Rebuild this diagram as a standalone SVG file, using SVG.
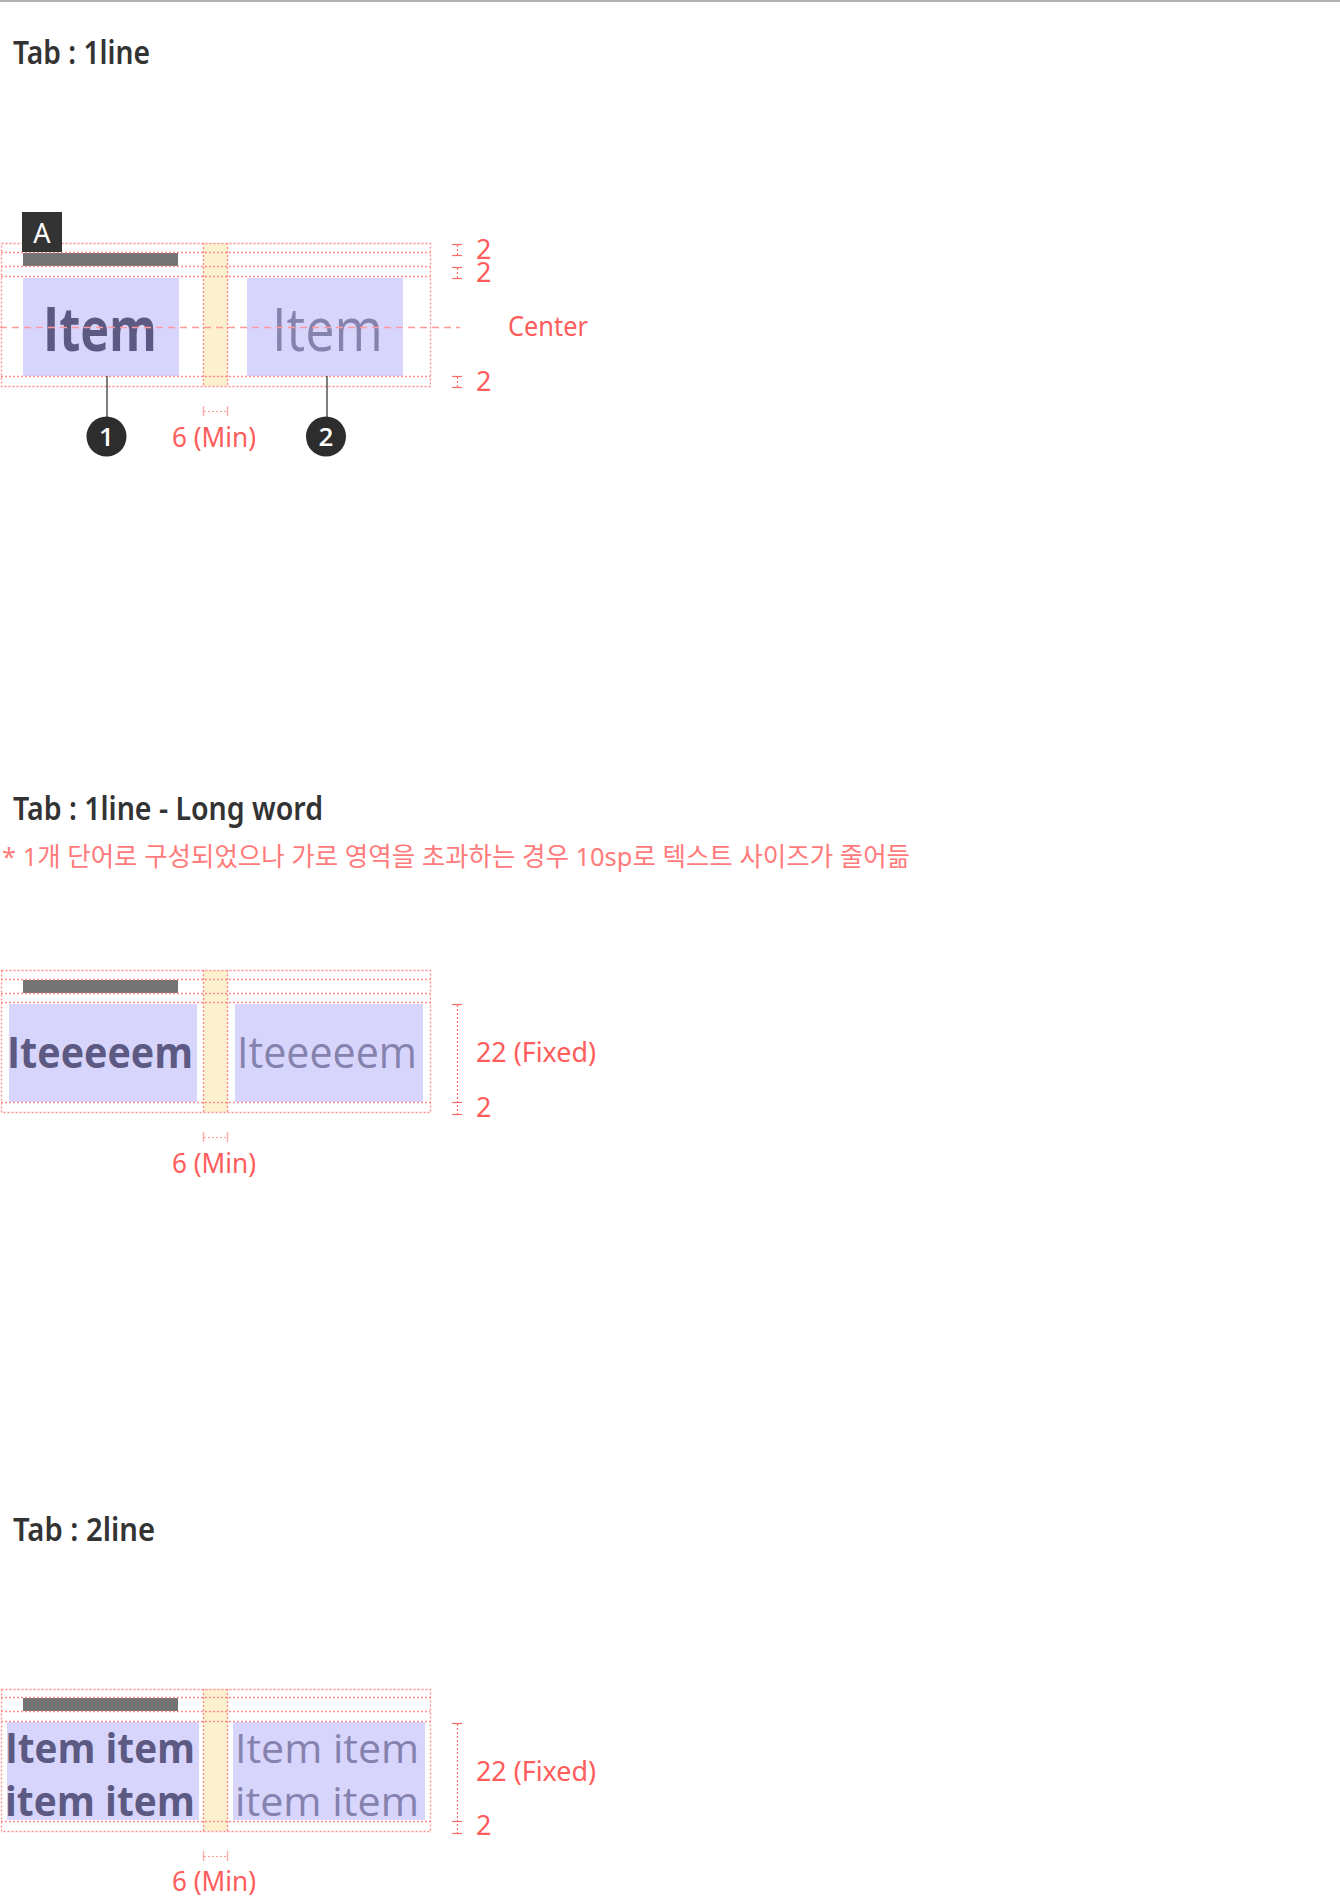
<svg xmlns="http://www.w3.org/2000/svg" width="1340" height="1896" viewBox="0 0 1340 1896">
<style>
  .title{font-family:"Noto Sans","Liberation Sans",sans-serif;font-weight:600;font-size:32px;fill:#333333}
  .note{font-family:"Noto Sans","Noto Sans CJK KR",sans-serif;font-size:26px;fill:#ff7b7b}
  .lbl{font-family:"Noto Sans","Liberation Sans",sans-serif;font-size:27px;fill:#ff5c5c}
  .guide{fill:none;stroke:#ff8c8c;stroke-width:1.3;stroke-dasharray:2 2}
  .center{fill:none;stroke:#ff9a9a;stroke-width:1.5;stroke-dasharray:7 5}
  .dim{fill:none;stroke:#ff6b6b;stroke-width:1.2}
  .dimdot{fill:none;stroke:#ff6b6b;stroke-width:1.2;stroke-dasharray:2 2}
  .mindim{fill:none;stroke:#ffaaaa;stroke-width:1.4}
  .mindot{fill:none;stroke:#ff9a9a;stroke-width:1.2;stroke-dasharray:2 2}
  .box{fill:#d8d5fd}
  .gap{fill:#fdf0cf}
  .bar{fill:#737373}
  .sel{font-family:"Open Sans","Liberation Sans",sans-serif;font-weight:700;fill:#5c5a82}
  .unsel{font-family:"Open Sans","Liberation Sans",sans-serif;font-weight:400;fill:#8582ad}
  .badge{fill:#2d2d2d}
  .badgetxt{font-family:"Open Sans","Liberation Sans",sans-serif;font-weight:600;font-size:26px;fill:#ffffff;text-anchor:middle}
  .leader{stroke:#555555;stroke-width:1.5;fill:none}
</style>

<rect x="0" y="0" width="1340" height="2" fill="#b0b0b0"/>

<!-- Section 1 -->
<g id="title-1line"><text class="title" x="13" y="64" textLength="137" lengthAdjust="spacingAndGlyphs">Tab : 1line</text></g>

<g id="s1-gap"><rect class="gap" x="203" y="243" width="25" height="143"/></g>
<g id="s1-indicator"><rect class="bar" x="23" y="253" width="155" height="13"/></g>
<g id="s1-item1"><rect class="box" x="23" y="278" width="156" height="98"/>
  <text class="sel" x="43" y="351" font-size="60" textLength="114" lengthAdjust="spacingAndGlyphs">Item</text></g>
<g id="s1-item2"><rect class="box" x="247" y="278" width="156" height="98"/>
  <text class="unsel" x="272" y="351" font-size="60" textLength="111" lengthAdjust="spacingAndGlyphs">Item</text></g>
<g id="s1-guides">
  <rect class="guide" x="1.5" y="243.5" width="429" height="143"/>
  <line class="guide" x1="1" y1="252.5" x2="430" y2="252.5"/>
  <line class="guide" x1="1" y1="266.5" x2="430" y2="266.5"/>
  <line class="guide" x1="1" y1="276.5" x2="430" y2="276.5"/>
  <line class="guide" x1="1" y1="376.5" x2="430" y2="376.5"/>
  <line class="guide" x1="203.5" y1="243" x2="203.5" y2="386"/>
  <line class="guide" x1="227.5" y1="243" x2="227.5" y2="386"/>
  <line class="center" x1="0" y1="327.5" x2="460" y2="327.5"/>
</g>
<g id="s1-A"><rect x="22" y="212" width="40" height="40" fill="#333333"/>
  <text x="42" y="243" font-family="Noto Sans, Liberation Sans, sans-serif" font-size="27" fill="#ffffff" text-anchor="middle">A</text></g>
<g id="s1-dims">
  <line class="dim" x1="452" y1="244.5" x2="462" y2="244.5"/><line class="dim" x1="452" y1="255.5" x2="462" y2="255.5"/><line class="dimdot" x1="457.5" y1="245" x2="457.5" y2="255"/>
  <line class="dim" x1="452" y1="267.5" x2="462" y2="267.5"/><line class="dim" x1="452" y1="278.5" x2="462" y2="278.5"/><line class="dimdot" x1="457.5" y1="268" x2="457.5" y2="278"/>
  <line class="dim" x1="452" y1="376.5" x2="462" y2="376.5"/><line class="dim" x1="452" y1="387.5" x2="462" y2="387.5"/><line class="dimdot" x1="457.5" y1="377" x2="457.5" y2="387"/>
  <text class="lbl" x="476" y="259">2</text>
  <text class="lbl" x="476" y="282">2</text>
  <text class="lbl" x="476" y="391">2</text>
  <text class="lbl" x="508" y="336" textLength="80" lengthAdjust="spacingAndGlyphs">Center</text>
  <line class="mindim" x1="203.5" y1="406" x2="203.5" y2="416"/><line class="mindim" x1="227.5" y1="406" x2="227.5" y2="416"/><line class="mindot" x1="204" y1="411.5" x2="227" y2="411.5"/>
  <text class="lbl" x="172" y="447" textLength="84" lengthAdjust="spacingAndGlyphs">6 (Min)</text>
</g>
<g id="connectors">
  <line class="leader" x1="107" y1="376" x2="107" y2="418"/>
  <line class="leader" x1="327" y1="376" x2="327" y2="418"/>
</g>
<g id="badge-1"><circle class="badge" cx="106.5" cy="436.5" r="20"/><text class="badgetxt" x="106.5" y="446">1</text></g>
<g id="badge-2"><circle class="badge" cx="326" cy="436.5" r="20"/><text class="badgetxt" x="326" y="446">2</text></g>

<!-- Section 2 -->
<g id="title-longword"><text class="title" x="13" y="820" textLength="310" lengthAdjust="spacingAndGlyphs">Tab : 1line - Long word</text></g>
<g id="note-longword"><text class="note" x="2" y="866" textLength="908" lengthAdjust="spacingAndGlyphs">* 1개 단어로 구성되었으나 가로 영역을 초과하는 경우 10sp로 텍스트 사이즈가 줄어듦</text></g>

<g id="s2-gap"><rect class="gap" x="203" y="970" width="25" height="142"/></g>
<g id="s2-indicator"><rect class="bar" x="23" y="980" width="155" height="13"/></g>
<g id="s2-item1"><rect class="box" x="9" y="1004" width="188" height="98"/>
  <text class="sel" x="7" y="1068" font-size="43" textLength="186" lengthAdjust="spacingAndGlyphs">Iteeeeem</text></g>
<g id="s2-item2"><rect class="box" x="235" y="1004" width="188" height="98"/>
  <text class="unsel" x="237" y="1068" font-size="43" textLength="180" lengthAdjust="spacingAndGlyphs">Iteeeeem</text></g>
<g id="s2-guides">
  <rect class="guide" x="1.5" y="970.5" width="429" height="142"/>
  <line class="guide" x1="1" y1="979.5" x2="430" y2="979.5"/>
  <line class="guide" x1="1" y1="993.5" x2="430" y2="993.5"/>
  <line class="guide" x1="1" y1="1002.5" x2="430" y2="1002.5"/>
  <line class="guide" x1="1" y1="1102.5" x2="430" y2="1102.5"/>
  <line class="guide" x1="203.5" y1="970" x2="203.5" y2="1112"/>
  <line class="guide" x1="227.5" y1="970" x2="227.5" y2="1112"/>
</g>
<g id="s2-dims">
  <line class="dim" x1="452" y1="1004.5" x2="462" y2="1004.5"/>
  <line class="dim" x1="452" y1="1102.5" x2="462" y2="1102.5"/>
  <line class="dim" x1="452" y1="1114.5" x2="462" y2="1114.5"/>
  <line class="dimdot" x1="457.5" y1="1005" x2="457.5" y2="1114"/>
  <text class="lbl" x="476" y="1062" textLength="120" lengthAdjust="spacingAndGlyphs">22 (Fixed)</text>
  <text class="lbl" x="476" y="1117">2</text>
  <line class="mindim" x1="203.5" y1="1132" x2="203.5" y2="1142"/><line class="mindim" x1="227.5" y1="1132" x2="227.5" y2="1142"/><line class="mindot" x1="204" y1="1137.5" x2="227" y2="1137.5"/>
  <text class="lbl" x="172" y="1173" textLength="84" lengthAdjust="spacingAndGlyphs">6 (Min)</text>
</g>

<!-- Section 3 -->
<g id="title-2line"><text class="title" x="13" y="1541" textLength="142" lengthAdjust="spacingAndGlyphs">Tab : 2line</text></g>

<g id="s3-gap"><rect class="gap" x="203" y="1689" width="25" height="142"/></g>
<g id="s3-indicator"><rect class="bar" x="23" y="1698" width="155" height="13"/></g>
<g id="s3-item1"><rect class="box" x="7" y="1722" width="192" height="98"/>
  <text class="sel" x="5" y="1763" font-size="41" textLength="190" lengthAdjust="spacingAndGlyphs">Item item</text>
  <text class="sel" x="5" y="1816" font-size="41" textLength="190" lengthAdjust="spacingAndGlyphs">item item</text></g>
<g id="s3-item2"><rect class="box" x="233" y="1722" width="192" height="98"/>
  <text class="unsel" x="235" y="1763" font-size="41" textLength="184" lengthAdjust="spacingAndGlyphs">Item item</text>
  <text class="unsel" x="235" y="1816" font-size="41" textLength="184" lengthAdjust="spacingAndGlyphs">item item</text></g>
<g id="s3-guides">
  <rect class="guide" x="1.5" y="1689.5" width="429" height="142"/>
  <line class="guide" x1="1" y1="1697.5" x2="430" y2="1697.5"/>
  <line class="guide" x1="1" y1="1711.5" x2="430" y2="1711.5"/>
  <line class="guide" x1="1" y1="1721.5" x2="430" y2="1721.5"/>
  <line class="guide" x1="1" y1="1821.5" x2="430" y2="1821.5"/>
  <line class="guide" x1="203.5" y1="1689" x2="203.5" y2="1831"/>
  <line class="guide" x1="227.5" y1="1689" x2="227.5" y2="1831"/>
</g>
<g id="s3-dims">
  <line class="dim" x1="452" y1="1723.5" x2="462" y2="1723.5"/>
  <line class="dim" x1="452" y1="1821.5" x2="462" y2="1821.5"/>
  <line class="dim" x1="452" y1="1833.5" x2="462" y2="1833.5"/>
  <line class="dimdot" x1="457.5" y1="1724" x2="457.5" y2="1833"/>
  <text class="lbl" x="476" y="1781" textLength="120" lengthAdjust="spacingAndGlyphs">22 (Fixed)</text>
  <text class="lbl" x="476" y="1835">2</text>
  <line class="mindim" x1="203.5" y1="1851" x2="203.5" y2="1861"/><line class="mindim" x1="227.5" y1="1851" x2="227.5" y2="1861"/><line class="mindot" x1="204" y1="1856.5" x2="227" y2="1856.5"/>
  <text class="lbl" x="172" y="1891" textLength="84" lengthAdjust="spacingAndGlyphs">6 (Min)</text>
</g>
</svg>
